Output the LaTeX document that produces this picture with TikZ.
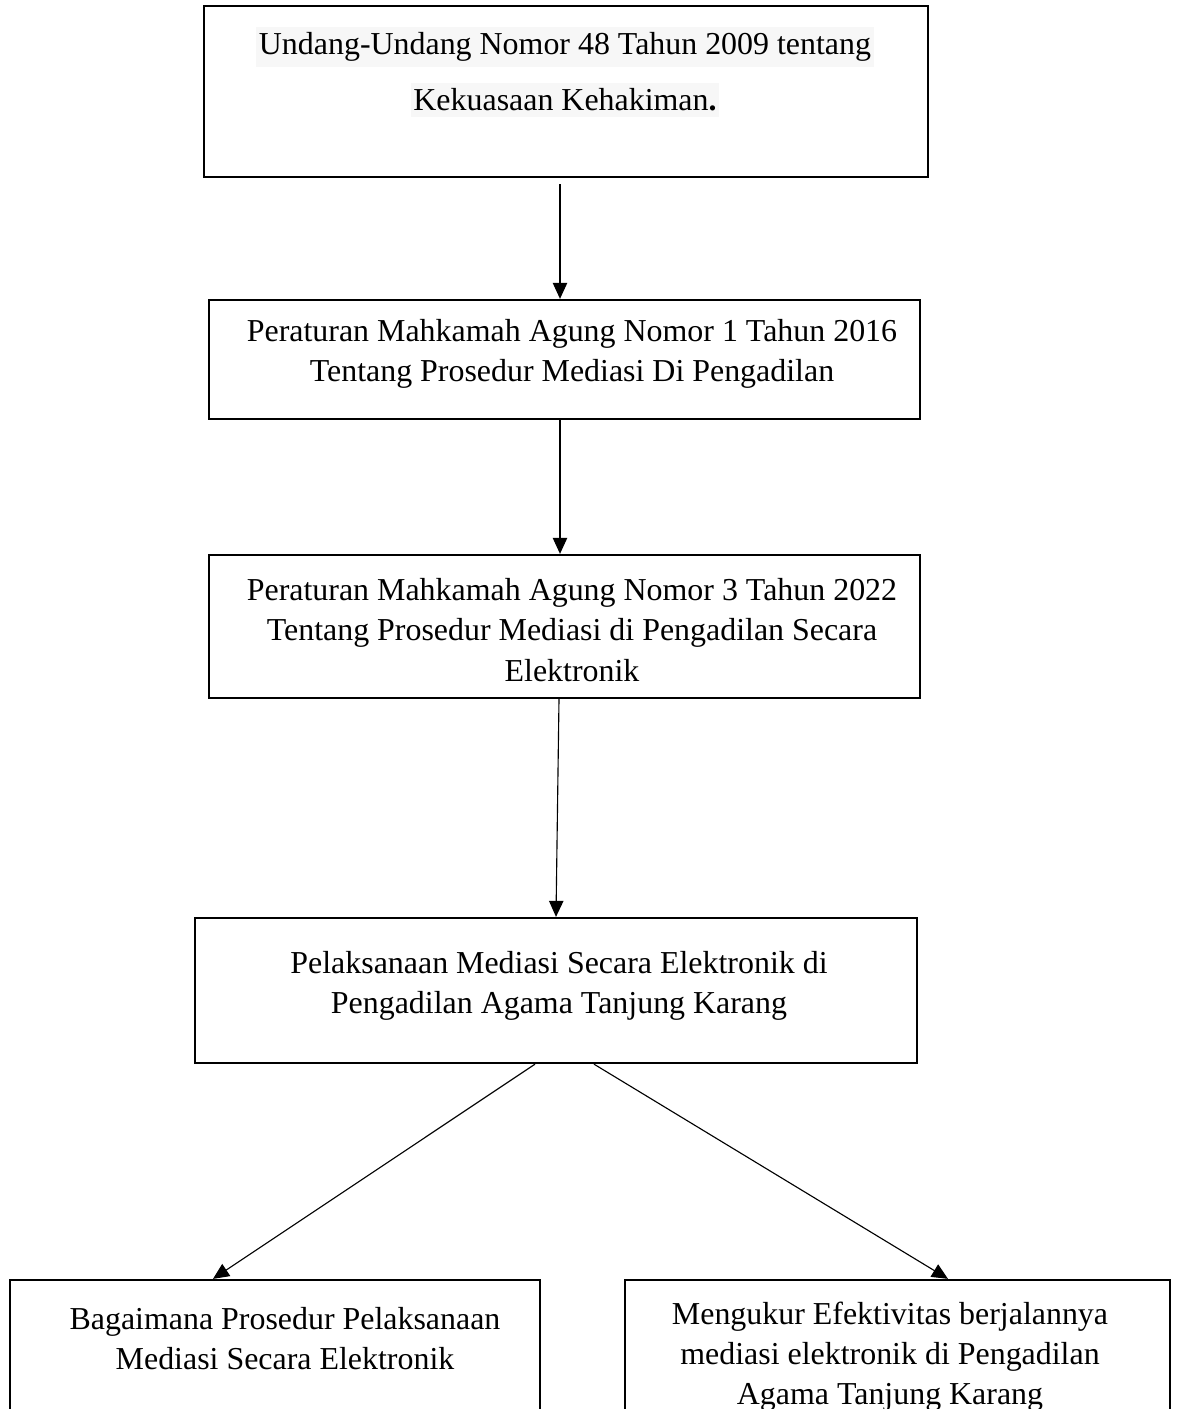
\documentclass[tikz,border=0pt]{standalone}
\usepackage{fontspec}
\setmainfont{Liberation Serif}
\usetikzlibrary{arrows.meta,calc}
\tikzset{
	kotak/.style={draw, line width=1.6pt, inner sep=0pt},
	teks/.style={align=center, inner sep=0pt, font=\fontsize{22.7}{28.5}\selectfont},
	sorot/.style={fill=black!3, inner xsep=2pt, inner ysep=4pt, font=\fontsize{22.7}{28.5}\selectfont},
	panah/.style={-{Triangle[length=0.4cm,width=0.36cm]}, line width=0.8pt},
}

\begin{document}
\begin{tikzpicture}[x=0.025cm, y=-0.025cm]	%units = pixels of the page
	\useasboundingbox (0,0) rectangle (1180,1409);
	\clip (0,0) rectangle (1180,1409);

	%UU 48/2009
	\node[kotak, minimum width=18.1cm, minimum height=4.275cm] (uu) at (566,91.5) {};
	\node[sorot] (uu1) at (565,47) {Undang-Undang Nomor 48 Tahun 2009 tentang};
	\node[sorot] (uu2) at (565,100) {Kekuasaan Kehakiman\textbf{.}};

	%PERMA 1/2016
	\node[kotak, minimum width=17.775cm, minimum height=2.975cm] (perma1) at (564.5,359.5) {};
	\node[teks] (perma1t) at (572,354) {Peraturan Mahkamah Agung Nomor 1 Tahun 2016\\Tentang Prosedur Mediasi Di Pengadilan};

	%PERMA 3/2022
	\node[kotak, minimum width=17.775cm, minimum height=3.575cm] (perma3) at (564.5,626.5) {};
	\node[teks] (perma3t) at (572,630) {Peraturan Mahkamah Agung Nomor 3 Tahun 2022\\Tentang Prosedur Mediasi di Pengadilan Secara\\Elektronik};

	%pelaksanaan
	\node[kotak, minimum width=18.05cm, minimum height=3.625cm] (pelak) at (556,990.5) {};
	\node[teks] (pelakt) at (559,986) {Pelaksanaan Mediasi Secara Elektronik di\\Pengadilan Agama Tanjung Karang};

	%two questions (cut off at the bottom)
	\node[kotak, minimum width=13.25cm, minimum height=4.5cm] (prosedur) at (275,1370) {};
	\node[teks] (prosedurt) at (285,1339) {Bagaimana Prosedur Pelaksanaan\\Mediasi Secara Elektronik};
	\node[kotak, minimum width=13.625cm, minimum height=4.5cm] (efektif) at (897.5,1370) {};
	\node[teks] (efektift) at (890,1357) {Mengukur Efektivitas berjalannya\\mediasi elektronik di Pengadilan\\Agama Tanjung Karang};

	%arrows
	\coordinate (sumbu) at (560,0);
	\draw[panah, shorten <=0.15cm] (uu.south -| sumbu) -- (perma1.north -| sumbu);
	\draw[panah] (perma1.south -| sumbu) -- (perma3.north -| sumbu);
	\draw[panah] ($(perma3.south)+(-5.5,0)$) -- (pelak.north);
	\draw[panah] ($(pelak.south)+(-21,0)$) -- ($(prosedur.north)+(-62,0)$);
	\draw[panah] ($(pelak.south)+(38,0)$) -- ($(efektif.north)+(50.5,0)$);
\end{tikzpicture}
\end{document}
